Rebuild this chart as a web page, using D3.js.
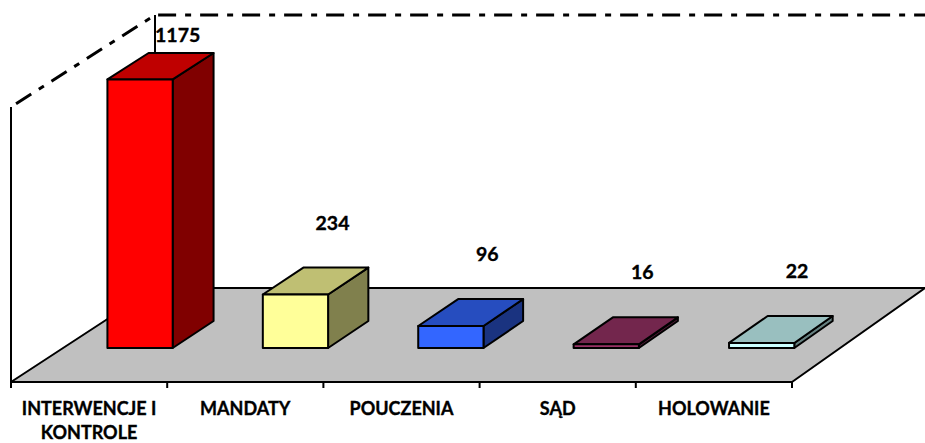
<!DOCTYPE html>
<html>
<head>
<meta charset="utf-8">
<script src="https://cdn.jsdelivr.net/npm/d3@7"></script>
<style>
  body { margin: 0; background: #fff; }
  text { font-family: Lato, "Open Sans", sans-serif; font-weight: bold; fill: #000;
         stroke: #000; stroke-width: 0.35px; }
</style>
</head>
<body>
<svg id="chart" width="925" height="443"></svg>
<script>
// dane wykresu
const categories = ["INTERWENCJE I KONTROLE", "MANDATY", "POUCZENIA", "SĄD", "HOLOWANIE"];
const labelLines = [["INTERWENCJE I", "KONTROLE"], ["MANDATY"], ["POUCZENIA"], ["SĄD"], ["HOLOWANIE"]];
const values = [1175, 234, 96, 16, 22];
const frontColors = ["#FF0000", "#FFFF99", "#3366FF", "#993366", "#CCFFFF"];
const yMax = 1200;

const svg = d3.select("#chart");

// geometria "3D": przednia i tylna krawędź podłogi
const floorFrontY = 382, floorDepthY = 94;
const xFront = d3.scaleBand().domain(categories).range([11, 792]);
const xBack = d3.scaleBand().domain(categories).range([155, 925]);
const hFront = d3.scaleLinear().domain([0, yMax]).range([0, 275]);
const hBack = d3.scaleLinear().domain([0, yMax]).range([0, 273]);

// rzut punktu: kategoria, pozycja w paśmie (0..1), głębokość z (0..1), wartość
function project(cat, frac, z, v) {
  const xf = xFront(cat) + frac * xFront.bandwidth();
  const xb = xBack(cat) + frac * xBack.bandwidth();
  const x = xf * (1 - z) + xb * z;
  const h = hFront(v) * (1 - z) + hBack(v) * z;
  const y = floorFrontY - floorDepthY * z - h;
  return [x, y];
}
const first = categories[0], last = categories[categories.length - 1];

// ściany (linie kreska-kropka)
const wallTopLeft = project(first, 0, 0, yMax);
const wallTopBack = project(first, 0, 1, yMax);
const wallTopRight = project(last, 1, 1, yMax);
svg.append("path")
  .attr("d", d3.line()([wallTopLeft, wallTopBack, [925, wallTopRight[1]]]))
  .attr("fill", "none").attr("stroke", "#000").attr("stroke-width", 3)
  .attr("stroke-dasharray", "18,9,6,9")
  .attr("stroke-dashoffset", -6);
// pionowe krawędzie ścian
svg.append("line")
  .attr("x1", wallTopLeft[0]).attr("y1", wallTopLeft[1])
  .attr("x2", wallTopLeft[0]).attr("y2", floorFrontY)
  .attr("stroke", "#000").attr("stroke-width", 2);
const backBottom = project(first, 0, 1, 0);
svg.append("line")
  .attr("x1", wallTopBack[0]).attr("y1", wallTopBack[1])
  .attr("x2", backBottom[0]).attr("y2", backBottom[1])
  .attr("stroke", "#000").attr("stroke-width", 2);

// podłoga
const floorPts = [project(first, 0, 0, 0), project(last, 1, 0, 0),
  project(last, 1, 1, 0), project(first, 0, 1, 0)];
svg.append("path")
  .attr("d", d3.line()(floorPts) + "Z")
  .attr("fill", "#C0C0C0").attr("stroke", "#000").attr("stroke-width", 2)
  .attr("stroke-linejoin", "round");

// słupki
const z0 = 0.362, z1 = 0.649, f0 = 0.285, f1 = 0.705;
const shade = (c, k) => { const r = d3.rgb(c); return d3.rgb(r.r * k, r.g * k, r.b * k).formatHex(); };

const bars = svg.append("g").selectAll("g")
  .data(categories.map((c, i) => ({ cat: c, value: values[i], color: frontColors[i] })))
  .join("g");

bars.append("path") // bok
  .attr("d", d => d3.line()([project(d.cat, f1, z0, 0), project(d.cat, f1, z1, 0),
    project(d.cat, f1, z1, d.value), project(d.cat, f1, z0, d.value)]) + "Z")
  .attr("fill", d => shade(d.color, 0.5));
bars.append("path") // góra
  .attr("d", d => d3.line()([project(d.cat, f0, z0, d.value), project(d.cat, f1, z0, d.value),
    project(d.cat, f1, z1, d.value), project(d.cat, f0, z1, d.value)]) + "Z")
  .attr("fill", d => shade(d.color, 0.75));
bars.append("path") // przód
  .attr("d", d => d3.line()([project(d.cat, f0, z0, 0), project(d.cat, f1, z0, 0),
    project(d.cat, f1, z0, d.value), project(d.cat, f0, z0, d.value)]) + "Z")
  .attr("fill", d => d.color);
bars.selectAll("path")
  .attr("stroke", "#000").attr("stroke-width", 2).attr("stroke-linejoin", "round");

// etykiety wartości
svg.append("g").selectAll("text")
  .data(categories.map((c, i) => ({ cat: c, value: values[i] })))
  .join("text")
  .attr("x", d => project(d.cat, 0.5, 0.62, 0)[0])
  .attr("y", d => Math.max(project(d.cat, 0.5, z1, d.value)[1] - 45, 34.5) + 7)
  .attr("text-anchor", "middle")
  .style("font-size", "19.5px")
  .text(d => d.value);

// oś X: znaczniki na granicach kategorii
const tickXs = categories.map(c => xFront(c)).concat([xFront(last) + xFront.bandwidth()]);
svg.append("g").selectAll("line")
  .data(tickXs)
  .join("line")
  .attr("x1", d => d).attr("x2", d => d)
  .attr("y1", floorFrontY).attr("y2", floorFrontY + 6)
  .attr("stroke", "#000").attr("stroke-width", 2);

const catLabels = svg.append("g").selectAll("text")
  .data(categories.map((c, i) => ({ cat: c, lines: labelLines[i] })))
  .join("text")
  .attr("text-anchor", "middle")
  .style("font-size", "18px");
catLabels.selectAll("tspan")
  .data(d => d.lines.map(l => ({ l, x: xFront(d.cat) + xFront.bandwidth() / 2 })))
  .join("tspan")
  .attr("x", d => d.x)
  .attr("y", (d, i) => 415 + i * 24)
  .text(d => d.l);
</script>
</body>
</html>
